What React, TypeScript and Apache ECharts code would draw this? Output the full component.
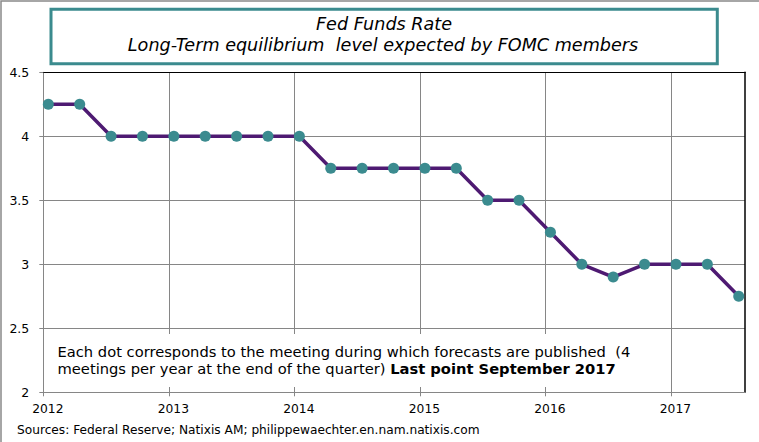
import React, { useEffect, useRef } from "react";
import * as echarts from "echarts";

// Decimal-year positions of each FOMC forecast point
const dates: number[] = [
  2012.04, 2012.29, 2012.54, 2012.79,
  2013.04, 2013.29, 2013.54, 2013.79,
  2014.04, 2014.29, 2014.54, 2014.79,
  2015.04, 2015.29, 2015.54, 2015.79,
  2016.04, 2016.29, 2016.54, 2016.79,
  2017.04, 2017.29, 2017.54,
];
const rates: number[] = [
  4.25, 4.25, 4.0, 4.0,
  4.0, 4.0, 4.0, 4.0,
  4.0, 3.75, 3.75, 3.75,
  3.75, 3.75, 3.5, 3.5,
  3.25, 3.0, 2.9, 3.0,
  3.0, 3.0, 2.75,
];
const yearTicks: number[] = [2012, 2013, 2014, 2015, 2016, 2017];
const titleLines: string[] = [
  "Fed Funds Rate",
  "Long-Term equilibrium  level expected by FOMC members",
];
const noteLine1 = "Each dot corresponds to the meeting during which forecasts are published  (4";
const noteLine2 = "meetings per year at the end of the quarter) ";
const noteBold = "Last point September 2017";
const sourceText = "Sources: Federal Reserve; Natixis AM; philippewaechter.en.nam.natixis.com";

const FONT = "DejaVu Sans, Verdana, sans-serif";

export default function App() {
  const ref = useRef<HTMLDivElement>(null);
  useEffect(() => {
    if (!ref.current) return;
    const chart = echarts.init(ref.current, null, { renderer: "svg" });
    const seriesData = dates.map((d, i) => [d, rates[i]]);
    chart.setOption({
      animation: false,
      backgroundColor: "#ffffff",
      grid: { left: 43.3, right: 14, top: 72.3, bottom: 49.7, containLabel: false },
      xAxis: [
        {
          type: "value",
          min: 2012,
          max: 2017.59,
          interval: 1,
          axisLine: { show: true, lineStyle: { color: "#868686", width: 1 } },
          axisTick: { show: true, length: 4, customValues: yearTicks, lineStyle: { color: "#868686" } },
          axisLabel: {
            color: "#000",
            fontFamily: FONT,
            fontSize: 12.3,
            margin: 11,
            padding: [0, 0, 0, 9],
            customValues: yearTicks,
            formatter: (v: number) => String(Math.round(v)),
          },
          splitLine: { show: true, lineStyle: { color: "#868686", width: 1 } },
        },
        {
          type: "value",
          position: "top",
          min: 2012,
          max: 2017.59,
          axisLine: { show: true, lineStyle: { color: "#000", width: 1 } },
          axisTick: { show: false },
          axisLabel: { show: false },
          splitLine: { show: false },
        },
      ],
      yAxis: [
        {
          type: "value",
          min: 2,
          max: 4.5,
          interval: 0.5,
          axisLine: { show: true, lineStyle: { color: "#868686", width: 1 } },
          axisTick: { show: true, length: 4, lineStyle: { color: "#868686" } },
          axisLabel: { color: "#000", fontFamily: FONT, fontSize: 12.5, margin: 14 },
          splitLine: { show: true, lineStyle: { color: "#868686", width: 1 } },
        },
        {
          type: "value",
          position: "right",
          min: 2,
          max: 4.5,
          axisLine: { show: true, lineStyle: { color: "#000", width: 1.5 } },
          axisTick: { show: false },
          axisLabel: { show: false },
          splitLine: { show: false },
        },
      ],
      series: [
        {
          type: "line",
          data: seriesData,
          xAxisIndex: 0,
          yAxisIndex: 0,
          lineStyle: { color: "#4e1a72", width: 3.5 },
          itemStyle: { color: "#3b8b8f", borderWidth: 0 },
          symbol: "circle",
          symbolSize: 11,
          showSymbol: true,
          z: 3,
        },
      ],
      graphic: [
        {
          type: "polyline",
          shape: { points: [[1, 442], [1, 1], [759, 1]] },
          style: { fill: "none", stroke: "#898989", lineWidth: 1.5 },
          silent: true,
          z: 0,
        },
        {
          type: "rect",
          shape: { x: 51, y: 9.3, width: 666.3, height: 54.4 },
          style: { fill: "#fff", stroke: "#3b8b8e", lineWidth: 3 },
          z: 10,
        },
        {
          type: "text",
          x: 384,
          y: 24,
          style: {
            text: titleLines[0],
            fontFamily: FONT,
            fontStyle: "italic",
            fontSize: 17.6,
            fill: "#000",
            align: "center",
            verticalAlign: "middle",
          },
          z: 11,
        },
        {
          type: "text",
          x: 383,
          y: 44.5,
          style: {
            text: titleLines[1],
            fontFamily: FONT,
            fontStyle: "italic",
            fontSize: 17.6,
            fill: "#000",
            align: "center",
            verticalAlign: "middle",
          },
          z: 11,
        },
        {
          type: "rect",
          shape: { x: 48, y: 334, width: 612, height: 53 },
          style: { fill: "#fff" },
          z: 10,
        },
        {
          type: "text",
          x: 57.5,
          y: 351,
          style: {
            text: noteLine1,
            fontFamily: FONT,
            fontSize: 14.7,
            fill: "#000",
            align: "left",
            verticalAlign: "middle",
          },
          z: 11,
        },
        {
          type: "text",
          x: 57.5,
          y: 368.5,
          style: {
            text: noteLine2 + "{b|" + noteBold + "}",
            fontFamily: FONT,
            fontSize: 14.7,
            fill: "#000",
            align: "left",
            verticalAlign: "middle",
            rich: { b: { fontFamily: FONT, fontSize: 14.7, fontWeight: "bold", fill: "#000" } },
          },
          z: 11,
        },
        {
          type: "text",
          x: 17,
          y: 430,
          style: {
            text: sourceText,
            fontFamily: FONT,
            fontSize: 12.2,
            fill: "#000",
            align: "left",
            verticalAlign: "middle",
          },
          z: 11,
        },
      ],
    });
    return () => chart.dispose();
  }, []);
  return (
    <div
      ref={ref}
      style={{ position: "absolute", left: 0, top: 0, width: 759, height: 442 }}
    />
  );
}
